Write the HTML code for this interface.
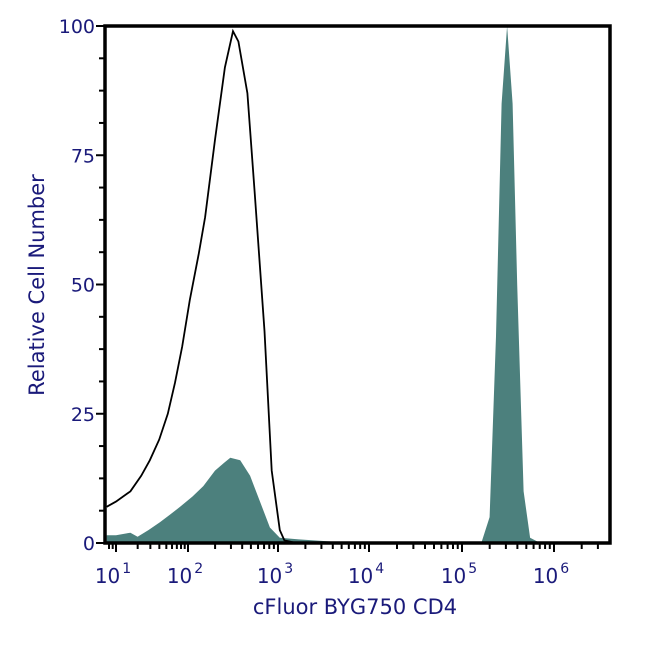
<!DOCTYPE html>
<html><head><meta charset="utf-8">
<style>
html,body{margin:0;padding:0;background:#fff;}
svg{display:block;font-family:"DejaVu Sans","Liberation Sans",sans-serif;}
</style></head>
<body>
<svg id="chart" width="650" height="650" viewBox="0 0 650 650">
  <g id="marks"></g>
  <g id="axes"></g>
  <rect x="105" y="26" width="505" height="517" fill="none" stroke="#000" stroke-width="3.5"/>
  <text x="355" y="614" text-anchor="middle" font-size="21" fill="#1a1a7a">cFluor BYG750 CD4</text>
  <text transform="translate(44,285) rotate(-90)" text-anchor="middle" font-size="21" fill="#1a1a7a">Relative Cell Number</text>
</svg>
<script>
const decadeExps = [1,2,3,4,5,6];
const yTickValues = [0,25,50,75,100];
const filledLogX = [0.87,1.0,1.2,1.3,1.45,1.61,1.75,1.89,2.05,2.17,2.3,2.4,2.47,2.58,2.69,2.8,2.91,3.02,3.23,3.56,3.9,4.5,5.21,5.3,5.37,5.43,5.49,5.55,5.6,5.67,5.74,5.85,6.5];
const filledY    = [1.5,1.5,2,1.2,2.5,4,5.5,7,9,11,14,15.5,16.5,16,13,8,3,1,0.7,0.3,0,0,0,5,40,85,100,85,50,10,1,0,0];
const outlineLogX = [0.87,1.0,1.2,1.35,1.47,1.6,1.72,1.82,1.92,2.02,2.12,2.19,2.3,2.41,2.5,2.56,2.66,2.74,2.85,2.93,3.02,3.07,3.2,3.6];
const outlineY    = [7,8,10,13,16,20,25,31,38,47,56,63,78,92,99,97,87,68,41,14,2.5,0.5,0,0];

const decadePx = [116,188,278,369,462,554];
const plotL=105, plotR=610, plotT=26, plotB=543;
function xScale(lx){
  let i=0;
  if(lx<decadeExps[0]) i=0;
  else if(lx>=decadeExps[decadeExps.length-1]) i=decadeExps.length-2;
  else { while(lx>decadeExps[i+1]) i++; }
  const t=(lx-decadeExps[i])/(decadeExps[i+1]-decadeExps[i]);
  return decadePx[i]+t*(decadePx[i+1]-decadePx[i]);
}
function yScale(v){ return plotB-(v/100)*(plotB-plotT); }
const NS="http://www.w3.org/2000/svg";
const marks=document.getElementById('marks'), axes=document.getElementById('axes');
function clampX(x){return Math.max(plotL,Math.min(plotR,x));}

let d="M"+clampX(xScale(filledLogX[0]))+","+plotB;
filledLogX.forEach((lx,i)=>{d+=" L"+clampX(xScale(lx)).toFixed(1)+","+yScale(filledY[i]).toFixed(1);});
d+=" L"+clampX(xScale(filledLogX[filledLogX.length-1]))+","+plotB+" Z";
const fp=document.createElementNS(NS,'path');
fp.setAttribute('d',d);fp.setAttribute('fill','#4c807d');


marks.appendChild(fp);

let d2="";
outlineLogX.forEach((lx,i)=>{d2+=(i?" L":"M")+clampX(xScale(lx)).toFixed(1)+","+yScale(outlineY[i]).toFixed(1);});
const op=document.createElementNS(NS,'path');
op.setAttribute('d',d2);op.setAttribute('fill','none');op.setAttribute('stroke','#000');op.setAttribute('stroke-width','1.8');


marks.appendChild(op);

function line(x1,y1,x2,y2,w){
  const l=document.createElementNS(NS,'line');
  l.setAttribute('x1',x1);l.setAttribute('y1',y1);l.setAttribute('x2',x2);l.setAttribute('y2',y2);
  l.setAttribute('stroke','#000');l.setAttribute('stroke-width',w);
  
  
  axes.appendChild(l);
}
for(let e=0;e<=6;e++){
  for(let m=1;m<=9;m++){
    const lx=e+Math.log10(m);
    const x=xScale(lx);
    if(x<plotL+2||x>plotR-1) continue;
    line(x,plotB,x,plotB+(m===1?9:6),2);
  }
}
decadeExps.forEach(e=>{
  const t=document.createElementNS(NS,'text');
  t.setAttribute('x',xScale(e)-3);t.setAttribute('y',583);
  t.setAttribute('text-anchor','middle');t.setAttribute('font-size','20');t.setAttribute('fill','#1a1a7a');
  t.textContent='10';
  const s=document.createElementNS(NS,'tspan');
  s.setAttribute('font-size','14');s.setAttribute('dy','-10');s.setAttribute('dx','2');
  s.textContent=String(e);
  t.appendChild(s);
  
  
  axes.appendChild(t);
});
for(let v=0;v<=100;v+=6.25){
  const y=yScale(v);
  const major=Math.abs(v%25)<0.01;
  line(plotL,y,plotL-(major?9:6),y,2);
}
yTickValues.forEach(v=>{
  const t=document.createElementNS(NS,'text');
  t.setAttribute('x',95);t.setAttribute('y',yScale(v)+7);
  t.setAttribute('text-anchor','end');t.setAttribute('font-size','19');t.setAttribute('fill','#1a1a7a');
  t.textContent=String(v);
  
  
  axes.appendChild(t);
});
</script>
</body></html>
